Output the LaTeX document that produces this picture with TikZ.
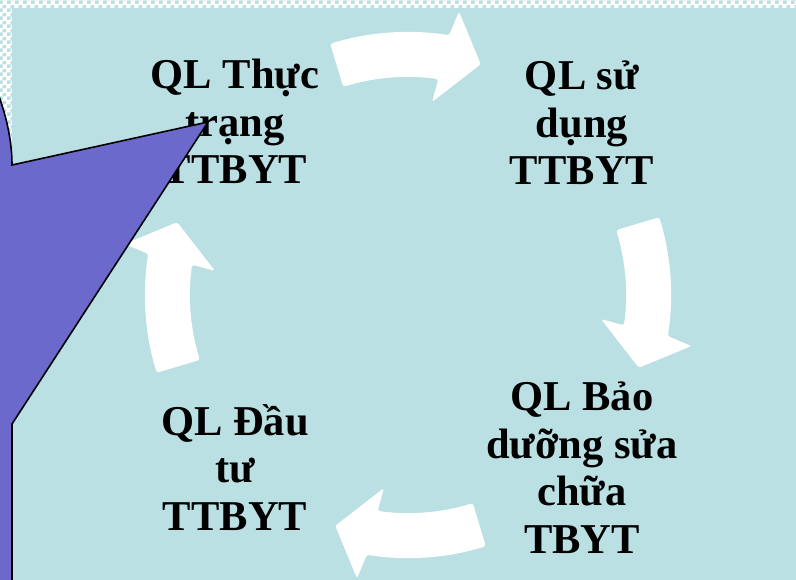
\documentclass[tikz,border=0pt]{standalone}
\usepackage{fontspec}
\setmainfont{Liberation Serif}
\usepackage{tikz}
\usetikzlibrary{patterns}
\definecolor{bgblue}{RGB}{186,224,227}
\definecolor{calloutblue}{RGB}{107,106,204}
% coarse checker for the slide margin
\pgfdeclarepatternformonly{bigchecker}{\pgfpointorigin}{\pgfqpoint{8pt}{8pt}}{\pgfqpoint{8pt}{8pt}}
{
  \pgfpathrectangle{\pgfpointorigin}{\pgfqpoint{4.05pt}{4.05pt}}
  \pgfpathrectangle{\pgfqpoint{4pt}{4pt}}{\pgfqpoint{4.05pt}{4.05pt}}
  \pgfusepath{fill}
}
\tikzset{
  cyclearrow/.style={fill=white, draw=none, rounded corners=2.5pt},
  steptext/.style={font=\fontsize{42.5}{47.5}\selectfont\bfseries, align=center, anchor=base, inner sep=0pt},
  callout/.style={fill=calloutblue, draw=black, line width=1.6pt, line join=miter}
}

\begin{document}
\begin{tikzpicture}[x=1pt, y=-1pt]
  \useasboundingbox (0,0) rectangle (796,580);
  \clip (0,0) rectangle (796,580);
  % background
  \fill[white] (0,0) rectangle (796,580);
  \fill[pattern=bigchecker, pattern color=bgblue] (0,0) rectangle (796,580);
  \fill[bgblue] (12,8) rectangle (796,580);

  % four arrows of the cycle
  \coordinate (ctr) at (408,295);
  \foreach \o in {0,90,180,270} {
    \fill[cyclearrow, shift={(ctr)}]
      ({\o-107.2}:263) arc[start angle=\o-107.2, end angle=\o-81, radius=263]
      -- ({\o-79.8}:288) -- ({\o-72.5}:242) -- ({\o-82.9}:194.5)
      -- ({\o-82}:218) arc[start angle=\o-82, end angle=\o-107.3, radius=218]
      -- cycle;
  }

  % steps (anchored on the baseline of the last line)
  \node[steptext] (thuctrang) at (235,184) {QL Thực\\trạng\\TTBYT};
  \node[steptext] (sudung)    at (582,185) {QL sử\\dụng\\TTBYT};
  \node[steptext] (baoduong)  at (582,553) {QL Bảo\\dưỡng sửa\\chữa\\TBYT};
  \node[steptext] (dautu)     at (235,530) {QL Đầu\\tư\\TTBYT};

  % callout on the left
  \draw[callout] (-4,88) .. controls (6,114) and (12,140) .. (12,165)
    -- (208,122) -- (12,424) -- (12,590) -- (-10,590) -- (-10,88) -- cycle;
\end{tikzpicture}
\end{document}
